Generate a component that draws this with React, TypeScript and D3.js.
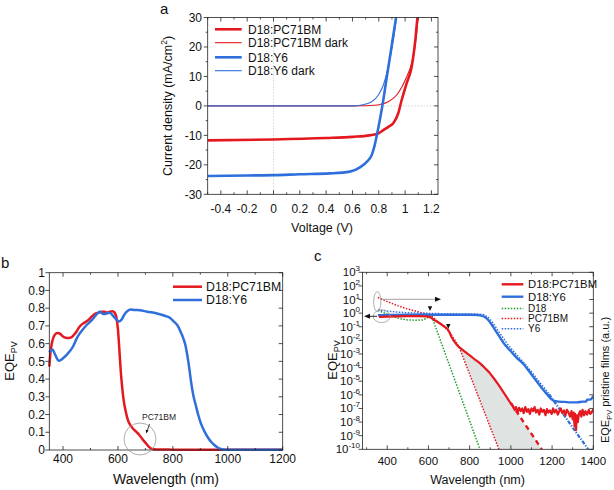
import React from 'react';
import * as d3 from 'd3';

const FONT = "Arial, 'Liberation Sans', Helvetica, sans-serif";
const RED = '#e4191f';
const BLUE = '#2f6fdc';
const GREEN = '#1f9e2c';

// ---------- Panel a : J-V curves ----------
const jvPcbmLightV = [-0.5, 0, 0.4, 0.6, 0.73, 0.8, 0.835, 0.87, 0.91, 0.948, 0.974, 1.012, 1.05, 1.075, 1.096, 1.11];
const jvPcbmLightJ = [-11.7, -11.4, -10.9, -10.5, -10.0, -9.3, -8.2, -7.2, -5.9, -2.5, 2.0, 7.7, 13.3, 21.2, 30.6, 34];
const jvPcbmDarkV = [-0.5, 0.6, 0.7, 0.76, 0.81, 0.872, 0.936, 0.974, 1.012, 1.05, 1.088, 1.1, 1.115];
const jvPcbmDarkJ = [0, 0, 0.05, 0.2, 0.5, 1.4, 3.7, 6.3, 9.9, 14.5, 24.6, 30.6, 35];
const jvY6LightV = [-0.5, -0.2, 0, 0.2, 0.43, 0.58, 0.66, 0.71, 0.746, 0.765, 0.785, 0.805, 0.827, 0.86, 0.895, 0.933, 0.945];
const jvY6LightJ = [-23.8, -23.6, -23.5, -23.2, -22.9, -22.3, -20.8, -18.9, -16.7, -14.0, -10.0, -5.5, 0, 9.5, 19.5, 30.5, 34];
const jvY6DarkV = [-0.5, 0.6, 0.67, 0.746, 0.797, 0.835, 0.872, 0.91, 0.936, 0.945];
const jvY6DarkJ = [0, 0, 0.3, 1.4, 3.7, 7.1, 13.3, 22.4, 30.6, 34];
const aXTicks = [-0.4, -0.2, 0, 0.2, 0.4, 0.6, 0.8, 1.0, 1.2];
const aXTickLabels = ['-0.4', '-0.2', '0', '0.2', '0.4', '0.6', '0.8', '1', '1.2'];
const aYTicks = [-30, -20, -10, 0, 10, 20, 30];
const aLegend = ['D18:PC71BM', 'D18:PC71BM dark', 'D18:Y6', 'D18:Y6 dark'];

// ---------- Panel b : linear EQE ----------
const eqePcbmNm = [350, 355, 362, 370, 380, 390, 400, 410, 420, 430, 440, 450, 460, 470, 480, 490, 500, 510, 520, 530, 540, 550, 560, 570, 580, 588, 594, 600, 605, 610, 615, 620, 628, 636, 645, 655, 665, 675, 685, 695, 705, 715, 725, 740, 800, 900, 1000, 1200];
const eqePcbm = [0.47, 0.56, 0.62, 0.65, 0.66, 0.655, 0.64, 0.633, 0.632, 0.635, 0.65, 0.67, 0.695, 0.71, 0.72, 0.73, 0.745, 0.76, 0.77, 0.775, 0.78, 0.78, 0.775, 0.78, 0.782, 0.775, 0.75, 0.68, 0.57, 0.45, 0.36, 0.29, 0.22, 0.17, 0.14, 0.12, 0.105, 0.09, 0.07, 0.05, 0.032, 0.015, 0.006, 0.003, 0.002, 0.001, 0.001, 0.001];
const eqeY6Nm = [350, 355, 362, 372, 385, 400, 418, 437, 450, 461, 475, 486, 500, 510, 522, 534, 547, 559, 571, 583, 595, 605, 614, 622, 632, 645, 660, 680, 706, 742, 773, 790, 804, 818, 828, 838, 847, 853, 859, 865, 871, 877, 883, 892, 902, 915, 927, 940, 951, 963, 975, 988, 1000, 1100, 1200];
const eqeY6 = [0.55, 0.56, 0.565, 0.535, 0.503, 0.517, 0.545, 0.585, 0.63, 0.658, 0.685, 0.705, 0.725, 0.742, 0.765, 0.78, 0.767, 0.77, 0.774, 0.755, 0.735, 0.725, 0.737, 0.76, 0.78, 0.793, 0.79, 0.788, 0.78, 0.77, 0.756, 0.745, 0.724, 0.7, 0.667, 0.63, 0.583, 0.53, 0.47, 0.4, 0.338, 0.29, 0.255, 0.2, 0.15, 0.105, 0.072, 0.045, 0.028, 0.014, 0.006, 0.002, 0.001, 0.001, 0.001];
const bXTicks = [400, 600, 800, 1000, 1200];
const bYTicks = [0, 0.1, 0.2, 0.3, 0.4, 0.5, 0.6, 0.7, 0.8, 0.9, 1];
const bLegend = ['D18:PC71BM', 'D18:Y6'];

// ---------- Panel c : log EQE (values are log10 EQE) ----------
const cPcbmNm = [360, 400, 450, 500, 550, 590, 605, 615, 628, 645, 660, 675, 692, 702, 712, 724, 736, 749, 770, 789, 805, 821, 845, 869, 895, 918, 942, 966, 985, 998, 1010,
  1018, 1025, 1032, 1040, 1047, 1055, 1062, 1070, 1078, 1085, 1092, 1100, 1108, 1115, 1122, 1130, 1138, 1145, 1152, 1160,
  1168, 1175, 1182, 1190, 1198, 1205, 1212, 1220, 1228, 1235, 1242, 1250, 1258, 1265, 1272, 1280, 1287, 1294, 1300, 1305,
  1309, 1312, 1316, 1320, 1325, 1330, 1336, 1342, 1348, 1355, 1362, 1370, 1378, 1385, 1392, 1400];
const cPcbmLog = [-0.28, -0.25, -0.24, -0.22, -0.22, -0.24, -0.28, -0.36, -0.5, -0.65, -0.8, -0.95, -1.15, -1.4, -1.75, -2.05, -2.3, -2.5, -2.75, -2.98, -3.15, -3.35, -3.62, -3.95, -4.35, -4.8, -5.3, -5.85, -6.3, -6.6, -6.85,
  -7.1, -6.9, -7.3, -6.95, -7.2, -7.0, -7.35, -6.9, -7.25, -7.05, -7.4, -7.0, -7.2, -6.9, -7.3, -7.1, -7.45, -7.0, -7.25, -7.1,
  -7.5, -7.05, -7.3, -7.15, -7.4, -7.0, -7.3, -7.1, -7.45, -7.2, -7.0, -7.35, -7.15, -7.5, -7.1, -7.3, -7.6, -7.2, -7.8, -7.3,
  -8.3, -7.4, -8.6, -7.5, -8.0, -7.4, -7.2, -7.6, -7.1, -7.5, -7.2, -7.45, -7.1, -7.4, -7.3, -7.05];
const cY6Nm = [355, 400, 500, 600, 700, 800, 840, 860, 875, 890, 905, 920, 935, 950, 965, 982, 1000, 1030, 1062, 1080, 1100, 1125, 1150, 1175, 1195, 1210, 1230, 1260, 1290, 1320, 1350, 1365, 1370, 1385, 1393, 1400];
const cY6Log = [-0.15, -0.14, -0.12, -0.12, -0.12, -0.12, -0.14, -0.2, -0.3, -0.5, -0.8, -1.15, -1.5, -1.85, -2.2, -2.5, -2.8, -3.3, -3.75, -4.1, -4.5, -5.0, -5.5, -5.95, -6.3, -6.45, -6.5, -6.52, -6.55, -6.55, -6.5, -6.5, -6.35, -6.35, -6.25, -6.1];
const cFilmD18Nm = [355, 380, 420, 460, 500, 540, 570, 590, 605, 615, 850];
const cFilmD18Log = [0.2, 0.05, -0.2, -0.4, -0.5, -0.52, -0.5, -0.4, -0.25, -0.2, -10];
const cFilmPcbmNm = [355, 400, 450, 500, 550, 600, 615, 640, 670, 700, 725, 749, 942];
const cFilmPcbmLog = [1.15, 0.85, 0.55, 0.3, 0.1, -0.1, -0.2, -0.55, -0.95, -1.35, -1.9, -2.5, -10];
const cFilmY6Nm = [355, 400, 450, 500, 550, 612, 700, 800, 850, 870, 890, 910, 930, 950, 980, 1010, 1040, 1070, 1100, 1130, 1160, 1185];
const cFilmY6Log = [0.25, 0.15, 0.08, 0.03, 0.0, -0.02, -0.05, -0.06, -0.08, -0.12, -0.3, -0.65, -1.1, -1.55, -2.2, -2.75, -3.25, -3.75, -4.3, -4.9, -5.45, -5.95];
const cPcbmExtrapNm = [1000, 1150];
const cPcbmExtrapLog = [-6.6, -10];
const cY6ExtrapNm = [1185, 1375];
const cY6ExtrapLog = [-5.95, -10];
const cXTicks = [400, 600, 800, 1000, 1200, 1400];
const cYTicks = [-10, -9, -8, -7, -6, -5, -4, -3, -2, -1, 0, 1, 2, 3];
const cLegendSolid = ['D18:PC71BM', 'D18:Y6'];
const cLegendDotted = ['D18', 'PC71BM', 'Y6'];

const zip = (xs: number[], ys: number[]) => xs.map((x, i) => [x, ys[i]] as [number, number]);

type Sc = d3.ScaleLinear<number, number>;

function Frame({ x, y, xMajor, xMinor, yMajor, yMinor }: { x: Sc; y: Sc; xMajor: number[]; xMinor: number[]; yMajor: number[]; yMinor: number[] }) {
  const [x0, x1] = x.range();
  const [y1, y0] = y.range();
  const els: React.ReactNode[] = [];
  const L = 4, l = 2;
  xMajor.forEach((v, i) => {
    const px = x(v);
    els.push(<line key={'xb' + i} x1={px} x2={px} y1={y1} y2={y1 - L} />);
    els.push(<line key={'xt' + i} x1={px} x2={px} y1={y0} y2={y0 + L} />);
  });
  xMinor.forEach((v, i) => {
    const px = x(v);
    els.push(<line key={'xbm' + i} x1={px} x2={px} y1={y1} y2={y1 - l} />);
    els.push(<line key={'xtm' + i} x1={px} x2={px} y1={y0} y2={y0 + l} />);
  });
  yMajor.forEach((v, i) => {
    const py = y(v);
    els.push(<line key={'yl' + i} x1={x0} x2={x0 - L} y1={py} y2={py} />);
    els.push(<line key={'yr' + i} x1={x1} x2={x1 - L} y1={py} y2={py} />);
  });
  yMinor.forEach((v, i) => {
    const py = y(v);
    els.push(<line key={'ylm' + i} x1={x0} x2={x0 - l} y1={py} y2={py} />);
    els.push(<line key={'yrm' + i} x1={x1} x2={x1 - l} y1={py} y2={py} />);
  });
  return (
    <g stroke="#222" strokeWidth={0.8} fill="none">
      <rect x={x0} y={y0} width={x1 - x0} height={y1 - y0} />
      {els}
    </g>
  );
}

function PanelA() {
  const x = d3.scaleLinear().domain([-0.5, 1.25]).range([207.7, 438]);
  const y = d3.scaleLinear().domain([-30, 30]).range([194.3, 17.5]);
  const line = d3.line<[number, number]>().x(d => x(d[0])).y(d => y(d[1])).curve(d3.curveMonotoneX);
  const xMinor = d3.range(-0.5, 1.25, 0.1).map(v => Math.round(v * 10) / 10).filter(v => !aXTicks.some(t => Math.abs(t - v) < 1e-6));
  const yMinor = [-25, -15, -5, 5, 15, 25];
  const series = [
    { d: zip(jvPcbmLightV, jvPcbmLightJ), c: RED, w: 2.6 },
    { d: zip(jvPcbmDarkV, jvPcbmDarkJ), c: RED, w: 1.1 },
    { d: zip(jvY6LightV, jvY6LightJ), c: BLUE, w: 2.6 },
    { d: zip(jvY6DarkV, jvY6DarkJ), c: BLUE, w: 1.1 },
  ];
  return (
    <g>
      <defs>
        <clipPath id="clipA"><rect x={207.7} y={17.5} width={230.3} height={176.8} /></clipPath>
      </defs>
      <line x1={x(0)} x2={x(0)} y1={17.5} y2={194.3} stroke="#9aa" strokeWidth={0.7} strokeDasharray="1,2" />
      <line x1={207.7} x2={438} y1={y(0)} y2={y(0)} stroke="#9aa" strokeWidth={0.7} strokeDasharray="1,2" />
      <g clipPath="url(#clipA)">
        {series.map((s, i) => <path key={i} d={line(s.d) || ''} fill="none" stroke={s.c} strokeWidth={s.w} />)}
      </g>
      <Frame x={x} y={y} xMajor={aXTicks} xMinor={xMinor} yMajor={aYTicks} yMinor={yMinor} />
      <g fontFamily={FONT} fontSize={12} fill="#111">
        {aXTicks.map((t, i) => <text key={i} x={x(t)} y={213} textAnchor="middle">{aXTickLabels[i]}</text>)}
        {aYTicks.map((t, i) => <text key={i} x={202} y={y(t) + 4.2} textAnchor="end">{t}</text>)}
      </g>
      <text x={322} y={232} fontFamily={FONT} fontSize={12.5} textAnchor="middle" fill="#111">Voltage (V)</text>
      <text transform={`translate(172,106) rotate(-90)`} fontFamily={FONT} fontSize={12.5} textAnchor="middle" fill="#111">
        Current density (mA/cm<tspan dy={-5} fontSize={8.5}>2</tspan><tspan dy={5}>)</tspan>
      </text>
      <text x={160} y={13.5} fontFamily={FONT} fontSize={15} fill="#111">a</text>
      {aLegend.map((lab, i) => {
        const yy = [29.3, 42.7, 57.3, 70.7][i];
        const s = series[i];
        return (
          <g key={i}>
            <line x1={215} x2={241.7} y1={yy} y2={yy} stroke={s.c} strokeWidth={s.w} />
            <text x={248} y={yy + 4.3} fontFamily={FONT} fontSize={12} fill="#111">{lab}</text>
          </g>
        );
      })}
    </g>
  );
}

function PanelB() {
  const x = d3.scaleLinear().domain([350, 1200]).range([49.3, 282.7]);
  const y = d3.scaleLinear().domain([0, 1]).range([450, 272.7]);
  const line = d3.line<[number, number]>().x(d => x(d[0])).y(d => y(d[1])).curve(d3.curveMonotoneX);
  const series = [
    { d: zip(eqePcbmNm, eqePcbm), c: RED },
    { d: zip(eqeY6Nm, eqeY6), c: BLUE },
  ];
  return (
    <g>
      {series.map((s, i) => <path key={i} d={line(s.d) || ''} fill="none" stroke={s.c} strokeWidth={2.5} />)}
      <Frame x={x} y={y} xMajor={bXTicks} xMinor={[500, 700, 900, 1100]} yMajor={bYTicks} yMinor={[]} />
      <circle cx={140} cy={439} r={16} fill="none" stroke="#999" strokeWidth={0.8} />
      <text x={159} y={419.5} fontFamily={FONT} fontSize={8.5} textAnchor="middle" fill="#222">PC71BM</text>
      <line x1={149.5} y1={424} x2={147.2} y2={431} stroke="#111" strokeWidth={0.8} />
      <path d="M146.2,433.5 L145.7,429.8 L148.6,430.6 Z" fill="#111" />
      <g fontFamily={FONT} fontSize={12} fill="#111">
        {bXTicks.map((t, i) => <text key={i} x={x(t)} y={463} textAnchor="middle">{t}</text>)}
        {bYTicks.map((t, i) => <text key={i} x={45} y={y(t) + 4.2} textAnchor="end">{String(t)}</text>)}
      </g>
      <text x={166} y={484} fontFamily={FONT} fontSize={14} textAnchor="middle" fill="#111">Wavelength (nm)</text>
      <text transform={`translate(13.5,361) rotate(-90)`} fontFamily={FONT} fontSize={13} textAnchor="middle" fill="#111">
        EQE<tspan dy={3} fontSize={9}>PV</tspan>
      </text>
      <text x={1} y={268} fontFamily={FONT} fontSize={15} fill="#111">b</text>
      {bLegend.map((lab, i) => {
        const yy = [286.7, 300][i];
        return (
          <g key={i}>
            <line x1={173} x2={202} y1={yy} y2={yy} stroke={series[i].c} strokeWidth={2.5} />
            <text x={206} y={yy + 4.3} fontFamily={FONT} fontSize={12.3} fill="#111">{lab}</text>
          </g>
        );
      })}
    </g>
  );
}

function PanelC() {
  const X0 = 362.5, X1 = 593.3, Y0 = 272.3, Y1 = 449.3;
  const x = d3.scaleLinear().domain([280, 1400]).range([X0, X1]);
  const y = d3.scaleLinear().domain([-10, 3]).range([Y1, Y0]);
  const lineS = d3.line<[number, number]>().x(d => x(d[0])).y(d => y(d[1])).curve(d3.curveMonotoneX);
  const lineL = d3.line<[number, number]>().x(d => x(d[0])).y(d => y(d[1]));
  const pcbm = zip(cPcbmNm, cPcbmLog);
  const y6 = zip(cY6Nm, cY6Log);
  const filmPcbm = zip(cFilmPcbmNm, cFilmPcbmLog);
  const extrap = zip(cPcbmExtrapNm, cPcbmExtrapLog);
  // shaded region: between pristine PC71BM film tail and blend tail / extrapolation
  const leftEdge = filmPcbm.filter(p => p[0] >= 749);
  const topEdge = pcbm.filter(p => p[0] >= 749 && p[0] <= 998).reverse();
  const shade = [...leftEdge, [extrap[1][0], -10] as [number, number], extrap[0], ...topEdge];
  const shadePath = lineL(shade) + 'Z';
  return (
    <g>
      <defs>
        <clipPath id="clipC"><rect x={X0} y={Y0} width={X1 - X0} height={Y1 - Y0} /></clipPath>
      </defs>
      <g clipPath="url(#clipC)">
        <path d={shadePath} fill="#dfe3e1" stroke="none" />
        <path d={lineL(zip(cFilmD18Nm, cFilmD18Log)) || ''} fill="none" stroke={GREEN} strokeWidth={1.5} strokeDasharray="1.5,1.5" />
        <path d={lineL(filmPcbm) || ''} fill="none" stroke={RED} strokeWidth={1.5} strokeDasharray="1.5,1.5" />
        <path d={lineL(extrap) || ''} fill="none" stroke={RED} strokeWidth={2.4} strokeDasharray="5,4" />
        <path d={lineS(y6) || ''} fill="none" stroke={BLUE} strokeWidth={2.4} />
        <path d={lineL(zip(cFilmY6Nm, cFilmY6Log)) || ''} fill="none" stroke={BLUE} strokeWidth={1.5} strokeDasharray="1.5,1.5" />
        <path d={lineL(zip(cY6ExtrapNm, cY6ExtrapLog)) || ''} fill="none" stroke={BLUE} strokeWidth={2.2} strokeDasharray="4,1.5,1.2,1.5" />
        <path d={lineL(pcbm) || ''} fill="none" stroke={RED} strokeWidth={2.2} strokeLinejoin="round" />
      </g>
      <Frame x={x} y={y} xMajor={cXTicks} xMinor={[300, 500, 700, 900, 1100, 1300]} yMajor={cYTicks} yMinor={[]} />
      {/* annotations */}
      <ellipse cx={377.3} cy={301.7} rx={3.6} ry={10} fill="none" stroke="#999" strokeWidth={0.8} />
      <ellipse cx={381.7} cy={316.3} rx={8.5} ry={6.3} fill="none" stroke="#999" strokeWidth={0.8} />
      <line x1={381.5} x2={436} y1={299.3} y2={299.3} stroke="#999" strokeWidth={0.9} />
      <path d="M441,299.3 L435,296.8 L435,301.8 Z" fill="#111" />
      <line x1={377} x2={369} y1={316.3} y2={316.3} stroke="#111" strokeWidth={0.9} />
      <path d="M364,316.3 L370,313.8 L370,318.8 Z" fill="#111" />
      <path d="M427.8,306.3 L432.2,306.3 L430,311 Z" fill="#111" />
      <path d="M446.1,324 L450.5,324 L448.3,328.7 Z" fill="#111" />
      <g fontFamily={FONT} fontSize={11.5} fill="#111">
        {cXTicks.map((t, i) => <text key={i} x={x(t)} y={465} textAnchor="middle">{t}</text>)}
        {cYTicks.map((t, i) => (
          <text key={i} x={360} y={y(t) + 4} textAnchor="end">10<tspan dy={-5} fontSize={8}>{String(t)}</tspan></text>
        ))}
      </g>
      <text x={477.6} y={484} fontFamily={FONT} fontSize={12.5} textAnchor="middle" fill="#111">Wavelength (nm)</text>
      <text transform={`translate(337,360) rotate(-90)`} fontFamily={FONT} fontSize={13} textAnchor="middle" fill="#111">
        EQE<tspan dy={3} fontSize={9}>PV</tspan>
      </text>
      <text transform={`translate(609,380) rotate(-90)`} fontFamily={FONT} fontSize={11} textAnchor="middle" fill="#111">
        EQE<tspan dy={3} fontSize={7.5}>PV</tspan><tspan dy={-3}> pristine films (a.u.)</tspan>
      </text>
      <text x={314} y={261} fontFamily={FONT} fontSize={15} fill="#111">c</text>
      {cLegendSolid.map((lab, i) => {
        const yy = [284.3, 296.7][i];
        return (
          <g key={'s' + i}>
            <line x1={501.7} x2={523.3} y1={yy} y2={yy} stroke={[RED, BLUE][i]} strokeWidth={2.4} />
            <text x={528} y={yy + 4} fontFamily={FONT} fontSize={11.3} fill="#111">{lab}</text>
          </g>
        );
      })}
      {cLegendDotted.map((lab, i) => {
        const yy = [308.4, 318.6, 328.8][i];
        return (
          <g key={'d' + i}>
            <line x1={501.7} x2={523.3} y1={yy} y2={yy} stroke={[GREEN, RED, BLUE][i]} strokeWidth={1.5} strokeDasharray="1.5,1.5" />
            <text x={528} y={yy + 3.6} fontFamily={FONT} fontSize={10} fill="#111">{lab}</text>
          </g>
        );
      })}
    </g>
  );
}

export default function App() {
  return (
    <svg width={614} height={490} viewBox="0 0 614 490" style={{ position: 'absolute', left: 0, top: 0, background: '#fff' }}>
      <rect x={0} y={0} width={614} height={490} fill="#fff" />
      <PanelA />
      <PanelB />
      <PanelC />
    </svg>
  );
}
